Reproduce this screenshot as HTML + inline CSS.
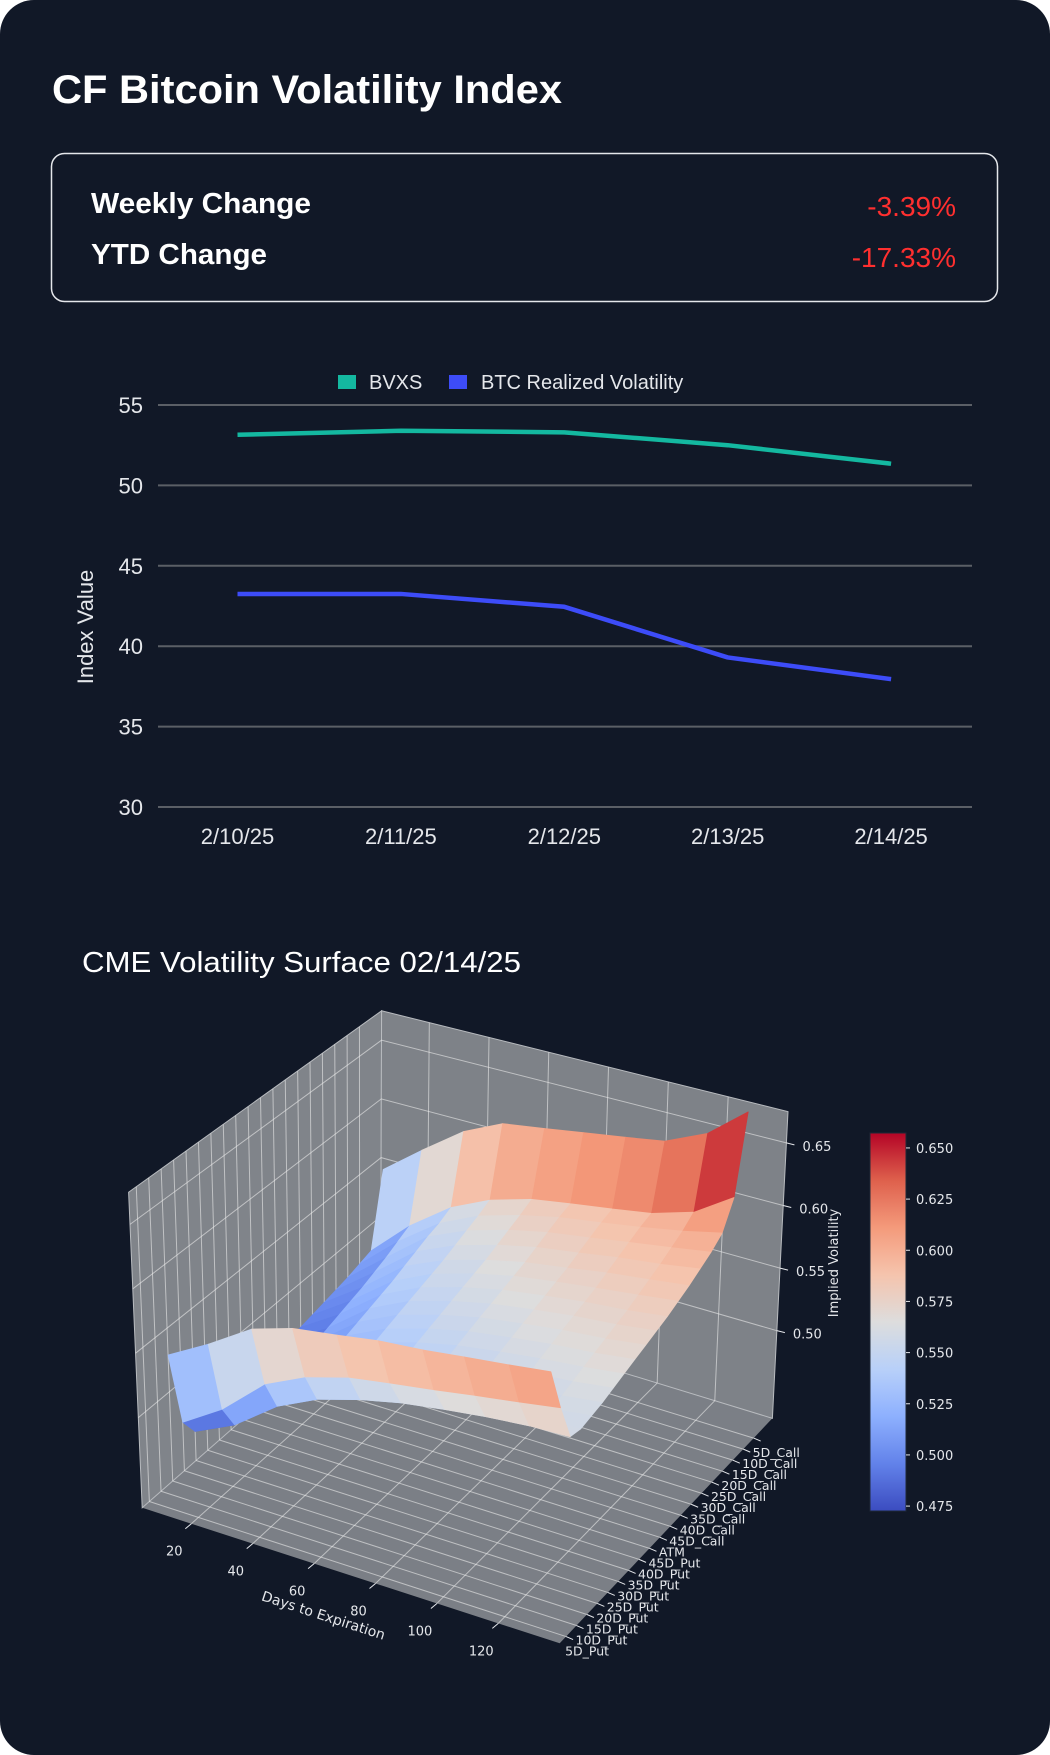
<!DOCTYPE html>
<html><head><meta charset="utf-8"><style>
html,body{margin:0;padding:0;background:#ffffff;}
svg{display:block;}
text{font-family:"Liberation Sans",Arial,sans-serif;}
.mpl{font-family:"DejaVu Sans","Liberation Sans",sans-serif;}
</style></head>
<body>
<svg id="root" width="1050" height="1755" viewBox="0 0 1050 1755" xmlns="http://www.w3.org/2000/svg">
  <rect x="0" y="0" width="1050" height="1755" rx="34" ry="34" fill="#111827"/>
  <text x="52" y="103" font-size="40" font-weight="600" fill="#ffffff" textLength="510" lengthAdjust="spacingAndGlyphs">CF Bitcoin Volatility Index</text>
  <g>
    <rect x="51.5" y="153.5" width="946" height="148" rx="13" ry="13" fill="none" stroke="#e5e7eb" stroke-width="1.5"/>
    <text x="91" y="213" font-size="29" font-weight="600" fill="#ffffff" textLength="220" lengthAdjust="spacingAndGlyphs">Weekly Change</text>
    <text x="91" y="264" font-size="29" font-weight="600" fill="#ffffff" textLength="176" lengthAdjust="spacingAndGlyphs">YTD Change</text>
    <text x="956" y="216" font-size="28" text-anchor="end" fill="#ff2f2f">-3.39%</text>
    <text x="956" y="267" font-size="28" text-anchor="end" fill="#ff2f2f">-17.33%</text>
  </g>
  <g id="linechart"></g>
  <text x="82" y="972" font-size="29" fill="#ffffff" textLength="439" lengthAdjust="spacingAndGlyphs">CME Volatility Surface 02/14/25</text>
  <g id="surface"></g>
</svg>
<script>
// ---------- Line chart data ----------
const dates = ["2/10/25","2/11/25","2/12/25","2/13/25","2/14/25"];
const bvxs = [53.15, 53.4, 53.3, 52.5, 51.35];
const realized = [43.25, 43.25, 42.45, 39.3, 37.95];
const yTicks = [30, 35, 40, 45, 50, 55];

// ---------- Surface data ----------
const strikes = ["5D_Put","10D_Put","15D_Put","20D_Put","25D_Put","30D_Put","35D_Put","40D_Put","45D_Put","ATM","45D_Call","40D_Call","35D_Call","30D_Call","25D_Call","20D_Call","15D_Call","10D_Call","5D_Call"];
const dteValues = [12, 25, 39, 52, 66, 79, 93, 106, 120, 133];
const dteTicks = [20, 40, 60, 80, 100, 120];
const volTicks = [0.50, 0.55, 0.60, 0.65];
const cbarTicks = [0.475, 0.500, 0.525, 0.550, 0.575, 0.600, 0.625, 0.650];
const vol0 = [0.55,0.49,0.475,0.472,0.472,0.474,0.476,0.478,0.48,0.482,0.484,0.486,0.488,0.49,0.492,0.494,0.497,0.50,0.56];
const vol1 = [0.568,0.51,0.49,0.487,0.487,0.489,0.491,0.494,0.497,0.50,0.503,0.506,0.509,0.512,0.516,0.52,0.525,0.53,0.585];
const vol2 = [0.59,0.54,0.515,0.512,0.512,0.514,0.517,0.52,0.523,0.526,0.529,0.532,0.535,0.539,0.543,0.547,0.55,0.555,0.61];
const vol3 = [0.60,0.555,0.53,0.527,0.527,0.529,0.532,0.535,0.538,0.541,0.544,0.547,0.55,0.553,0.557,0.561,0.565,0.57,0.625];
const vol4 = [0.605,0.565,0.54,0.537,0.537,0.539,0.542,0.545,0.548,0.551,0.554,0.557,0.56,0.563,0.567,0.571,0.575,0.58,0.63];
const vol5 = [0.61,0.57,0.547,0.544,0.544,0.546,0.549,0.552,0.555,0.558,0.561,0.564,0.567,0.57,0.574,0.578,0.582,0.585,0.635];
const vol6 = [0.613,0.575,0.552,0.549,0.549,0.551,0.554,0.557,0.56,0.563,0.566,0.569,0.572,0.575,0.579,0.583,0.587,0.59,0.64];
const vol7 = [0.617,0.58,0.556,0.553,0.553,0.555,0.558,0.561,0.564,0.567,0.57,0.573,0.576,0.58,0.584,0.588,0.592,0.595,0.645];
const vol8 = [0.621,0.585,0.559,0.556,0.556,0.558,0.561,0.564,0.567,0.57,0.573,0.576,0.58,0.584,0.588,0.593,0.598,0.605,0.66];
const vol9 = [0.625,0.59,0.56,0.558,0.56,0.562,0.565,0.568,0.571,0.574,0.577,0.58,0.584,0.588,0.593,0.598,0.605,0.625,0.685];
const volGrid = [vol0, vol1, vol2, vol3, vol4, vol5, vol6, vol7, vol8, vol9];

const NS = "http://www.w3.org/2000/svg";
function mk(tag, attrs, parent) {
  const el = document.createElementNS(NS, tag);
  for (const k in attrs) el.setAttribute(k, attrs[k]);
  parent.appendChild(el);
  return el;
}

// ---------- Line chart ----------
(function () {
  const g = document.getElementById("linechart");
  const xS = i => 237.5 + i * 163.4;
  const yS = v => 807 - (v - 30) * 16.08;
  yTicks.forEach(t => {
    const ln = mk("line", {x1: 158, x2: 972, y1: yS(t), y2: yS(t), stroke: "#5b5f66", "stroke-width": 2}, g);
    
    
    const tx = mk("text", {x: 143, y: yS(t) + 8, "font-size": 22, "text-anchor": "end", fill: "#e5e7eb"}, g);
    tx.textContent = t;
    
    
  });
  dates.forEach((d, i) => {
    const tx = mk("text", {x: xS(i), y: 844, "font-size": 22, "text-anchor": "middle", fill: "#e5e7eb"}, g);
    tx.textContent = d;
    
    
  });
  const yt = mk("text", {x: 0, y: 0, "font-size": 22, "text-anchor": "middle", fill: "#e5e7eb", transform: "translate(93,627) rotate(-90)"}, g);
  yt.textContent = "Index Value";
  
  
  const l1 = mk("polyline", {points: bvxs.map((v, i) => xS(i) + "," + yS(v)).join(" "), fill: "none", stroke: "#14b8a0", "stroke-width": 4.5, "stroke-linejoin": "round"}, g);
  
  
  const l2 = mk("polyline", {points: realized.map((v, i) => xS(i) + "," + yS(v)).join(" "), fill: "none", stroke: "#3d4cf8", "stroke-width": 4.5, "stroke-linejoin": "round"}, g);
  
  
  const s1 = mk("rect", {x: 338, y: 375, width: 18, height: 14, fill: "#14b8a0"}, g);
  
  
  const t1 = mk("text", {x: 369, y: 389, "font-size": 20, fill: "#e5e7eb"}, g);
  t1.textContent = "BVXS";
  
  
  const s2 = mk("rect", {x: 449, y: 375, width: 18, height: 14, fill: "#3d4cf8"}, g);
  
  
  const t2 = mk("text", {x: 481, y: 389, "font-size": 20, fill: "#e5e7eb"}, g);
  t2.textContent = "BTC Realized Volatility";
  
  
})();

// ---------- 3D surface ----------
(function () {
  const g = document.getElementById("surface");
  const C = {L: [142.2, 1507.8], B: [380.6, 1298.5], R: [772.4, 1418.3], F: [559.7, 1643.3]};
  const H = {L: 315.6, B: 287.7, R: 306.7, F: 325};
  const DX = {L: -0.043, B: 0.0035, R: 0.051, F: 0.027};
  const zMin = 0.43, zTop = 0.675, dMin = 4, dMax = 140;
  const vmin = 0.4726, vmax = 0.6573;
  const uOf = d => (d - dMin) / (dMax - dMin);
  const vOf = s => 0.03 + s * 0.049;
  function bil(a, u, v) {
    return a.L * (1 - u) * (1 - v) + a.F * u * (1 - v) + a.B * (1 - u) * v + a.R * u * v;
  }
  function proj(u, v, z) {
    const bx = bil({L: C.L[0], F: C.F[0], B: C.B[0], R: C.R[0]}, u, v);
    const by = bil({L: C.L[1], F: C.F[1], B: C.B[1], R: C.R[1]}, u, v);
    const h = (z - zMin) / (zTop - zMin) * bil(H, u, v);
    return [bx + h * bil(DX, u, v), by - h];
  }
  const pts = a => a.map(p => p[0].toFixed(1) + "," + p[1].toFixed(1)).join(" ");
  const cmapStops = [[59,76,192],[98,130,234],[141,176,254],[184,208,249],[221,221,221],[245,196,173],[244,154,123],[222,96,76],[180,4,38]];
  function cmap(val) {
    let t = Math.max(0, Math.min(1, (val - vmin) / (vmax - vmin))) * 8;
    const i = Math.min(7, Math.floor(t)), f = t - i;
    const a = cmapStops[i], b = cmapStops[i + 1];
    return "rgb(" + [0,1,2].map(k => Math.round(a[k] + (b[k] - a[k]) * f)).join(",") + ")";
  }
  // panes
  const floor = mk("polygon", {points: pts([proj(0,0,zMin), proj(1,0,zMin), proj(1,1,zMin), proj(0,1,zMin)]), fill: "#7b7f86"}, g);
  
  
  const lp = mk("polygon", {points: pts([proj(0,0,zMin), proj(0,1,zMin), proj(0,1,zTop), proj(0,0,zTop)]), fill: "#80848a", stroke: "#b8bbbf", "stroke-width": 1}, g);
  
  
  const rp = mk("polygon", {points: pts([proj(0,1,zMin), proj(1,1,zMin), proj(1,1,zTop), proj(0,1,zTop)]), fill: "#7e8288", stroke: "#b8bbbf", "stroke-width": 1}, g);
  
  
  const gs = "rgba(235,235,235,0.6)";
  strikes.forEach((s, i) => {
    const v = vOf(i);
    const a = proj(0, v, zMin), b = proj(1, v, zMin), c = proj(0, v, zTop);
    const l = mk("line", {x1: a[0], y1: a[1], x2: b[0], y2: b[1], stroke: gs, "stroke-width": 1}, g);
    
    
    const l2 = mk("line", {x1: a[0], y1: a[1], x2: c[0], y2: c[1], stroke: gs, "stroke-width": 1}, g);
    
    
    const tk = proj(1, v, zMin);
    const tl = mk("line", {x1: tk[0], y1: tk[1], x2: tk[0] + 7, y2: tk[1] + 3, stroke: "#e5e7eb", "stroke-width": 1}, g);
    
    
    const tx = mk("text", {x: tk[0] - 1, y: tk[1] + 19, "font-size": 12.5, fill: "#e5e7eb", class: "mpl"}, g);
    tx.textContent = s;
    
    
  });
  dteTicks.forEach(d => {
    const u = uOf(d);
    const a = proj(u, 0, zMin), b = proj(u, 1, zMin), c = proj(u, 1, zTop);
    const l = mk("line", {x1: a[0], y1: a[1], x2: b[0], y2: b[1], stroke: gs, "stroke-width": 1}, g);
    
    
    const l2 = mk("line", {x1: b[0], y1: b[1], x2: c[0], y2: c[1], stroke: gs, "stroke-width": 1}, g);
    
    
    const tl = mk("line", {x1: a[0], y1: a[1], x2: a[0] - 6, y2: a[1] + 5, stroke: "#e5e7eb", "stroke-width": 1}, g);
    
    
    const tx = mk("text", {x: a[0] - 17, y: a[1] + 32, "font-size": 13, "text-anchor": "middle", fill: "#e5e7eb", class: "mpl"}, g);
    tx.textContent = d;
    
    
  });
  volTicks.forEach(z => {
    const a = proj(0, 0, z), b = proj(0, 1, z), c = proj(1, 1, z);
    const l = mk("polyline", {points: pts([a, b, c]), fill: "none", stroke: gs, "stroke-width": 1}, g);
    
    
    const tl = mk("line", {x1: c[0], y1: c[1], x2: c[0] + 8, y2: c[1] + 2, stroke: "#e5e7eb", "stroke-width": 1}, g);
    
    
    const tx = mk("text", {x: c[0] + 16, y: c[1] + 8, "font-size": 13, fill: "#e5e7eb", class: "mpl"}, g);
    tx.textContent = z.toFixed(2);
    
    
  });
  // surface faces
  const faces = [];
  for (let c = 0; c < dteValues.length - 1; c++) {
    for (let s = 0; s < strikes.length - 1; s++) {
      const u0 = uOf(dteValues[c]), u1 = uOf(dteValues[c + 1]), v0 = vOf(s), v1 = vOf(s + 1);
      const z00 = volGrid[c][s], z10 = volGrid[c + 1][s], z11 = volGrid[c + 1][s + 1], z01 = volGrid[c][s + 1];
      faces.push({
        depth: (u0 + u1) / 2 - (v0 + v1) / 2,
        p: [proj(u0, v0, z00), proj(u1, v0, z10), proj(u1, v1, z11), proj(u0, v1, z01)],
        val: (z00 + z10 + z11 + z01) / 4
      });
    }
  }
  faces.sort((a, b) => a.depth - b.depth);
  faces.forEach(f => {
    const col = cmap(f.val);
    const poly = mk("polygon", {points: pts(f.p), fill: col, stroke: col, "stroke-width": 0.8, "stroke-linejoin": "round"}, g);
    
    
  });
  // axis titles
  const xt = mk("text", {x: 0, y: 0, "font-size": 14, "text-anchor": "middle", fill: "#e5e7eb", class: "mpl", transform: "translate(322,1620) rotate(18)"}, g);
  xt.textContent = "Days to Expiration";
  
  
  const zt = mk("text", {x: 0, y: 0, "font-size": 13, "text-anchor": "middle", fill: "#e5e7eb", class: "mpl", transform: "translate(838,1263) rotate(-90)"}, g);
  zt.textContent = "Implied Volatility";
  
  
  // colorbar
  const defs = mk("defs", {}, g);
  const grad = mk("linearGradient", {id: "cbg", x1: 0, y1: 1, x2: 0, y2: 0}, defs);
  for (let i = 0; i <= 16; i++) {
    const val = vmin + (vmax - vmin) * i / 16;
    mk("stop", {offset: (i / 16).toFixed(4), "stop-color": cmap(val)}, grad);
  }
  const cbTop = 1133, cbBot = 1511;
  const cy = val => cbBot - (val - vmin) / (vmax - vmin) * (cbBot - cbTop);
  const cb = mk("rect", {x: 870, y: cbTop, width: 36, height: cbBot - cbTop, fill: "url(#cbg)", stroke: "#1f2937", "stroke-width": 1}, g);
  
  
  cbarTicks.forEach(t => {
    const y = cy(t);
    const tl = mk("line", {x1: 906, y1: y, x2: 910, y2: y, stroke: "#e5e7eb", "stroke-width": 1}, g);
    
    
    const tx = mk("text", {x: 916, y: y + 5, "font-size": 13, fill: "#e5e7eb", class: "mpl"}, g);
    tx.textContent = t.toFixed(3);
    
    
  });
})();
</script>
</body></html>
